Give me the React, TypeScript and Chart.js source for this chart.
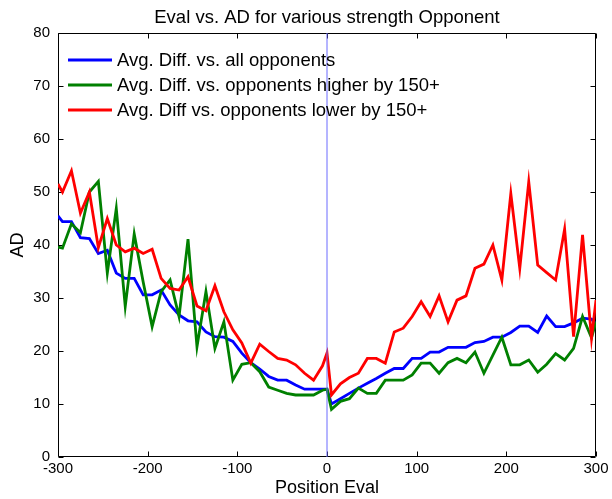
import React, { useEffect, useRef } from "react";
import { Chart, registerables } from "chart.js";

Chart.register(...registerables);

// Position evaluation (x) for every sample
const POSITION_EVAL = [
  -300, -295, -285, -275, -265, -255, -245, -235, -225, -215, -205, -195, -185, -175, -165, -155,
  -145, -135, -125, -115, -105, -95, -85, -75, -65, -55, -45, -35, -25, -15, -5, 0,
  5, 15, 25, 35, 45, 55, 65, 75, 85, 95, 105, 115, 125, 135, 145, 155,
  165, 175, 185, 195, 205, 215, 225, 235, 245, 255, 265, 275, 285, 295, 300,
];

// Avg. Diff. vs. all opponents
const AD_ALL = [
  45.5, 44.4, 44.4, 41.4, 41.2, 38.4, 39, 34.7, 33.7, 33.7, 30.6, 30.6, 31.5, 28.7, 26.8, 25.7,
  25.5, 23.6, 22.7, 22.6, 21.8, 19.6, 17.8, 16.6, 15.2, 14.5, 14.5, 13.6, 12.8, 12.8, 12.8, 12.8,
  10, 11, 12, 13, 13.9, 14.8, 15.8, 16.7, 16.7, 18.6, 18.6, 19.8, 19.8, 20.7, 20.7, 20.7,
  21.6, 21.8, 22.6, 22.6, 23.5, 24.7, 24.7, 23.5, 26.6, 24.6, 24.6, 25.3, 26.2, 26, 25,
];

// Avg. Diff. vs. opponents higher by 150+
const AD_HIGHER = [
  39.6, 39.4, 44, 42.3, 50, 52, 34.7, 46.9, 28.4, 42.1, 33, 24.6, 31.2, 33.4, 26.5, 41.1,
  20.8, 31.2, 20.5, 25.5, 14.5, 17.5, 17.8, 16.1, 13.2, 12.6, 12, 11.7, 11.7, 11.7, 12.6, 12.8,
  9, 10.5, 11, 13, 12, 12, 14.5, 14.5, 14.5, 15.5, 17.7, 17.7, 15.8, 17.8, 18.6, 17.8,
  19.8, 15.8, 19.2, 22.6, 17.4, 17.4, 18.3, 16, 17.5, 19.5, 18.3, 20.5, 26.5, 22.5, 25.5,
];

// Avg. Diff vs. opponents lower by 150+
const AD_LOWER = [
  51.5, 50, 54, 46, 50, 39.5, 45, 40, 38.7, 39.4, 38.4, 39.2, 33.7, 31.8, 31.5, 34,
  28.5, 27.6, 32.3, 27.4, 24, 21.5, 17.7, 21.3, 19.9, 18.6, 18.3, 17.4, 15.8, 14.5, 17.2, 19.6,
  11.7, 13.8, 15, 15.8, 18.6, 18.6, 17.7, 23.6, 24.3, 26.5, 29.3, 26.5, 30.4, 25.5, 29.6, 30.4,
  35.6, 36.4, 40, 33.4, 49.7, 35.6, 51.9, 36.2, 34.8, 33.4, 43, 22.7, 41.9, 22.4, 29.6,
];

// Vertical reference line at eval 0
const ZERO_LINE_X = [0, 0];
const ZERO_LINE_Y = [0, 80];

const SERIES_LABELS = [
  "Avg. Diff. vs. all opponents",
  "Avg. Diff. vs. opponents higher by 150+",
  "Avg. Diff vs. opponents lower by 150+",
];
const SERIES_COLORS = ["#0000ff", "#008000", "#ff0000"];

const TITLE = "Eval vs. AD for various strength Opponent";
const X_LABEL = "Position Eval";
const Y_LABEL = "AD";

const X_MIN = -300;
const X_MAX = 300;
const X_STEP = 100;
const Y_MIN = 0;
const Y_MAX = 80;
const Y_STEP = 10;

const FONT = "'Liberation Sans', Arial, Helvetica, sans-serif";

const toPoints = (xs: number[], ys: number[]) => xs.map((x, i) => ({ x, y: ys[i] }));

const framePlugin = {
  id: "matlabFrame",
  beforeDatasetsDraw(chart: any) {
    const { ctx, chartArea, scales } = chart;
    const { left, right, top, bottom } = chartArea;
    const L = Math.round(left) + 0.5;
    const R = Math.round(right) - 0.5;
    const T = Math.round(top) + 0.5;
    const B = Math.round(bottom) - 0.5;
    ctx.save();
    ctx.strokeStyle = "#000";
    ctx.lineWidth = 1;
    ctx.beginPath();
    ctx.rect(L, T, R - L, B - T);
    ctx.stroke();
    const tl = 5;
    ctx.beginPath();
    scales.x.ticks.forEach((t: any) => {
      const px = Math.round(scales.x.getPixelForValue(t.value)) + 0.5;
      ctx.moveTo(px, B);
      ctx.lineTo(px, B - tl);
      ctx.moveTo(px, T);
      ctx.lineTo(px, T + tl);
    });
    scales.y.ticks.forEach((t: any) => {
      const py = Math.round(scales.y.getPixelForValue(t.value)) + 0.5;
      ctx.moveTo(L, py);
      ctx.lineTo(L + tl, py);
      ctx.moveTo(R, py);
      ctx.lineTo(R - tl, py);
    });
    ctx.stroke();
    ctx.restore();
  },
};

const legendPlugin = {
  id: "insideLegend",
  afterDatasetsDraw(chart: any) {
    const { ctx, chartArea } = chart;
    const items = chart.data.datasets.filter((d: any) => !d.noLegend);
    ctx.save();
    ctx.font = `18.5px ${FONT}`;
    ctx.textBaseline = "middle";
    ctx.textAlign = "left";
    items.forEach((ds: any, i: number) => {
      const y = chartArea.top + 27 + i * 25;
      const x0 = chartArea.left + 10;
      ctx.strokeStyle = ds.borderColor;
      ctx.lineWidth = ds.borderWidth;
      ctx.beginPath();
      ctx.moveTo(x0, y);
      ctx.lineTo(x0 + 44, y);
      ctx.stroke();
      ctx.fillStyle = "#000";
      ctx.fillText(ds.label, x0 + 49, y + 1);
    });
    ctx.restore();
  },
};

export default function App() {
  const canvasRef = useRef<HTMLCanvasElement | null>(null);

  useEffect(() => {
    if (!canvasRef.current) return;
    const seriesY = [AD_ALL, AD_HIGHER, AD_LOWER];
    const datasets: any[] = seriesY.map((ys, i) => ({
      label: SERIES_LABELS[i],
      data: toPoints(POSITION_EVAL, ys),
      borderColor: SERIES_COLORS[i],
      backgroundColor: SERIES_COLORS[i],
      borderWidth: 2.8,
      pointRadius: 0,
      tension: 0,
      order: 3 - i,
    }));
    datasets.push({
      label: "zero",
      noLegend: true,
      data: toPoints(ZERO_LINE_X, ZERO_LINE_Y),
      borderColor: "#6a6aff",
      backgroundColor: "#6a6aff",
      borderWidth: 1,
      pointRadius: 0,
      order: 0,
    });

    const chart = new Chart(canvasRef.current, {
      type: "line",
      data: { datasets },
      options: {
        animation: false,
        responsive: false,
        layout: { padding: { left: 0, right: 16, top: 0, bottom: 0 } },
        plugins: {
          legend: { display: false },
          tooltip: { enabled: false },
          title: {
            display: true,
            fullSize: false,
            text: TITLE,
            color: "#000",
            font: { family: FONT, size: 18.5, weight: "normal" },
            padding: { top: 7, bottom: 3.8 },
          },
        },
        scales: {
          x: {
            type: "linear",
            min: X_MIN,
            max: X_MAX,
            ticks: {
              stepSize: X_STEP,
              color: "#000",
              font: { family: FONT, size: 15 },
              padding: 3,
              maxRotation: 0,
            },
            grid: { display: false, drawTicks: false },
            border: { display: false },
            title: {
              display: true,
              text: X_LABEL,
              color: "#000",
              font: { family: FONT, size: 18 },
              padding: { top: 0, bottom: 0 },
            },
            afterFit: (scale: any) => {
              scale.height = 42;
            },
          },
          y: {
            type: "linear",
            min: Y_MIN,
            max: Y_MAX,
            ticks: {
              stepSize: Y_STEP,
              color: "#000",
              font: { family: FONT, size: 15 },
              padding: 8,
            },
            grid: { display: false, drawTicks: false },
            border: { display: false },
            title: {
              display: true,
              text: Y_LABEL,
              color: "#000",
              font: { family: FONT, size: 18 },
              padding: { top: 7, bottom: 0 },
            },
            afterFit: (scale: any) => {
              scale.width = 58;
            },
          },
        },
      } as any,
      plugins: [framePlugin, legendPlugin],
    });
    return () => chart.destroy();
  }, []);

  return (
    <div style={{ position: "absolute", left: 0, top: 0, width: 612, height: 499, background: "#fff" }}>
      <canvas ref={canvasRef} width={612} height={499} style={{ display: "block" }} />
    </div>
  );
}
